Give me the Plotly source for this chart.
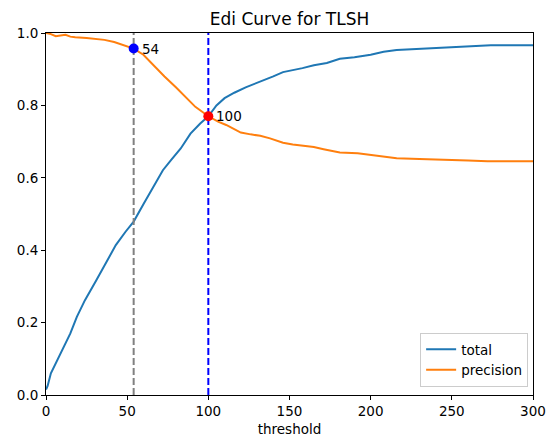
import plotly.graph_objects as go

# threshold values for each series
thr_total = [0, 1, 3, 7, 12, 15, 19, 24, 31, 37, 43, 49, 54, 60, 66, 72, 77, 83, 89,
             95, 100, 105, 110, 116, 123, 130, 140, 146, 152, 158, 165, 173,
             181, 190, 200, 208, 216, 230, 241, 253, 262, 274, 300]
total = [0.015, 0.025, 0.06, 0.097, 0.143, 0.17, 0.216, 0.262, 0.317, 0.364, 0.414,
         0.451, 0.479, 0.527, 0.575, 0.621, 0.649, 0.681, 0.722, 0.75, 0.77, 0.80, 0.82,
         0.835, 0.85, 0.862, 0.88, 0.892, 0.897, 0.903, 0.911, 0.917,
         0.929, 0.933, 0.94, 0.948, 0.953, 0.956, 0.959, 0.962, 0.964, 0.966, 0.966]

thr_prec = [0, 3, 6, 9, 12, 15, 18, 25, 30, 36, 42, 48, 54, 60, 66, 73, 80, 86, 92, 100,
            106, 111, 116, 120, 126, 132, 138, 146, 152, 159, 165, 171, 181, 192, 204, 216,
            230, 241, 260, 272, 300]
precision = [1.0, 0.997, 0.991, 0.993, 0.995, 0.99, 0.988, 0.986, 0.984, 0.981, 0.975,
             0.967, 0.957, 0.94, 0.912, 0.88, 0.85, 0.824, 0.796, 0.77, 0.755, 0.746, 0.733,
             0.725, 0.72, 0.716, 0.709, 0.697, 0.692, 0.688, 0.685, 0.679, 0.67, 0.668,
             0.66, 0.654, 0.652, 0.651, 0.648, 0.646, 0.646]

mark_x = [54, 100]
mark_y = [0.957, 0.77]
mark_colors = ["blue", "red"]
vline_colors = ["gray", "blue"]

x_ticks = [0, 50, 100, 150, 200, 250, 300]
y_ticks = [0.0, 0.2, 0.4, 0.6, 0.8, 1.0]

FONT = "DejaVu Sans"
FS = 13.5

fig = go.Figure()
fig.add_trace(go.Scatter(x=thr_total, y=total, mode="lines", name="total",
                         line=dict(color="#1f77b4", width=2)))
fig.add_trace(go.Scatter(x=thr_prec, y=precision, mode="lines", name="precision",
                         line=dict(color="#ff7f0e", width=2)))

for xv, c in zip(mark_x, vline_colors):
    fig.add_trace(go.Scatter(x=[xv, xv], y=[0, 1], mode="lines", showlegend=False,
                             line=dict(color=c, width=2, dash="7px,3px"), hoverinfo="skip"))

for xv, yv, c in zip(mark_x, mark_y, mark_colors):
    fig.add_trace(go.Scatter(x=[xv], y=[yv], mode="markers", showlegend=False,
                             marker=dict(color=c, size=10)))
    fig.add_annotation(x=xv, y=yv, text=str(xv), showarrow=False, xanchor="left",
                       yanchor="middle", xshift=6, font=dict(size=FS, color="black", family=FONT))

fig.update_layout(
    width=551, height=443,
    margin=dict(l=46, r=18, t=33, b=48, autoexpand=False),
    paper_bgcolor="white", plot_bgcolor="white",
    font=dict(family=FONT, size=FS, color="black"),
    title=dict(text="Edi Curve for TLSH", x=(46 + 533) / 2 / 551, xanchor="center",
               y=1 - 19 / 443, yanchor="middle", font=dict(size=17, family=FONT)),
    legend=dict(x=0.99, y=0.022, xanchor="right", yanchor="bottom",
                bordercolor="#cccccc", borderwidth=1, bgcolor="rgba(255,255,255,0.8)",
                font=dict(size=FS), itemwidth=30),
    showlegend=True,
)
fig.update_xaxes(range=[0, 300], tickvals=x_ticks, ticktext=[str(v) for v in x_ticks],
                 showgrid=False, zeroline=False, showline=True, linecolor="black",
                 linewidth=1, mirror=True, ticks="outside", ticklen=4, tickcolor="black",
                 automargin=False,
                 title=dict(text="threshold", font=dict(size=FS), standoff=6))
fig.update_yaxes(range=[0, 1], tickvals=y_ticks, ticktext=[f"{v:.1f}" for v in y_ticks],
                 showgrid=False, zeroline=False, showline=True, linecolor="black",
                 linewidth=1, mirror=True, ticks="outside", ticklen=4, tickcolor="black",
                 automargin=False)

fig.write_html("out.html")
